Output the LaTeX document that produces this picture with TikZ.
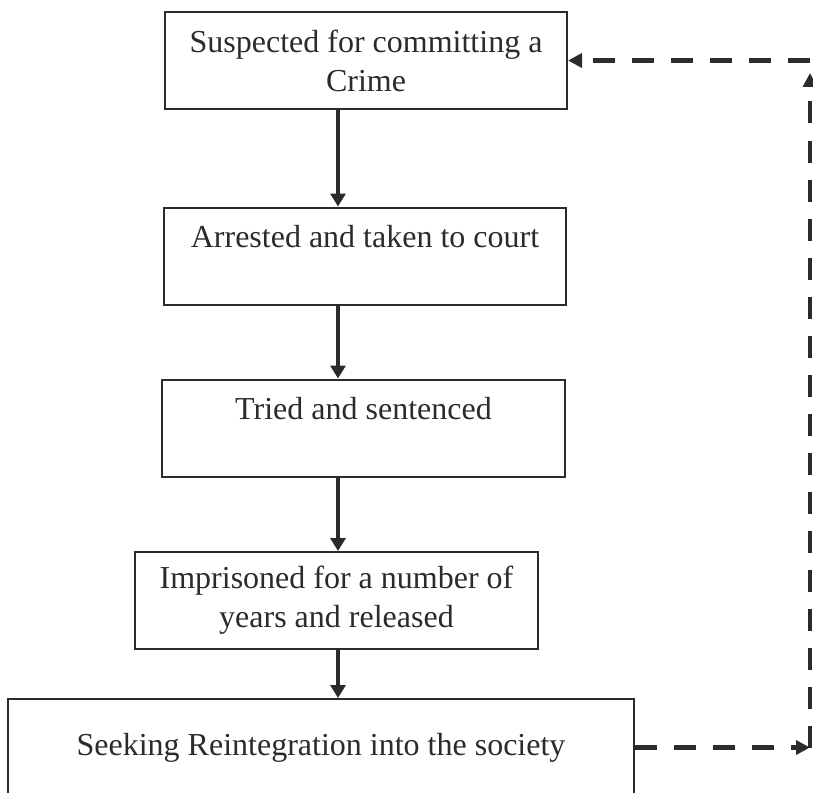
\documentclass[tikz,border=0pt]{standalone}
\usepackage{fontspec}
\setmainfont{Liberation Serif}
\usepackage{tikz}
\usetikzlibrary{arrows.meta}
\definecolor{ink}{HTML}{2B2B2B}

\begin{document}
\begin{tikzpicture}[x=0.5pt,y=-0.5pt,font=\fontsize{16}{19.5}\selectfont,
    stage/.style={draw=ink,line width=1pt,text=ink,align=center,minimum height=48.5pt,inner sep=0pt},
    flow/.style={ink,line width=2.4pt,-{Triangle[length=6.5pt,width=7.5pt]}},
    loop/.style={ink,line width=2.2pt,dash pattern=on 11pt off 8.5pt},
    looptip/.style={-{Triangle[length=7pt,width=7pt]}}]
  \useasboundingbox (0,0) rectangle (813,792);
  % stages
  \node[stage,minimum width=201pt] (suspect) at (366,60.5) {Suspected for committing a\\Crime};
  \node[stage,minimum width=201pt] (arrest) at (365,256) {Arrested and taken to court\\\mbox{}};
  \node[stage,minimum width=201.5pt] (trial) at (363.5,428) {Tried and sentenced\\\mbox{}};
  \node[stage,minimum width=201.5pt] (prison) at (336.5,600.5) {Imprisoned for a number of\\years and released};
  \node[stage,minimum width=313pt] (reentry) at (321,747.5) {Seeking Reintegration into the society};
  % connectors
  \coordinate (spine) at (338,0);
  \coordinate (rim) at (810,0);
  \coordinate (rimtop) at (810,73);
  \foreach \a/\b in {suspect/arrest,trial/prison,arrest/trial,prison/reentry}
    \draw[flow] (\a.south -| spine) -- (\b.north -| spine);
  % feedback loop
  \draw[loop,looptip] (reentry.east) -- (reentry.east -| rim);
  \draw[loop,line width=1.6pt,looptip] (reentry.east -| rim) -- (rimtop);
  \draw[loop,looptip] (suspect.east -| rim) -- (suspect.east);
\end{tikzpicture}
\end{document}
